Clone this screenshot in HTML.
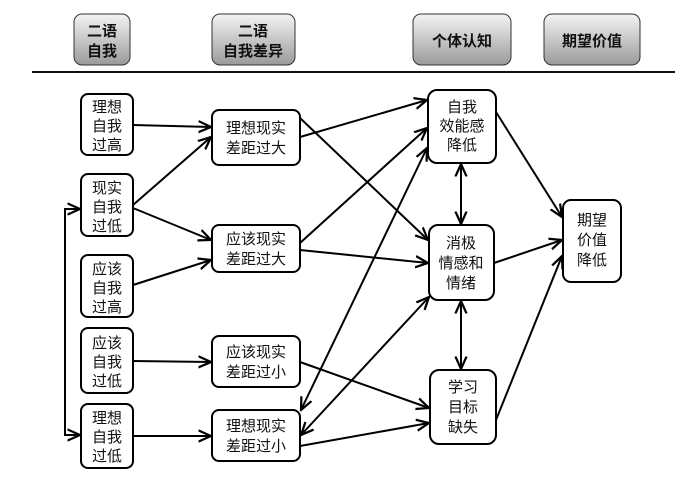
<!DOCTYPE html>
<html><head><meta charset="utf-8"><style>
body{margin:0;background:#fff;}
svg text{font-family:"Liberation Sans","Noto Sans CJK SC",sans-serif;font-size:15px;fill:#111;text-anchor:middle;}
.h{font-weight:bold;}
</style></head><body>
<svg width="700" height="481" viewBox="0 0 700 481" xmlns="http://www.w3.org/2000/svg">
<defs>
<linearGradient id="g" x1="0" y1="0" x2="0" y2="1"><stop offset="0" stop-color="#f4f4f4"/><stop offset="1" stop-color="#9a9a9a"/></linearGradient>
<marker id="a" viewBox="0 0 10 10" refX="9" refY="5" markerWidth="7" markerHeight="7" orient="auto-start-reverse"><path d="M0,1 L9,5 L0,9" fill="none" stroke="#000" stroke-width="1.6"/></marker>
</defs>
<g stroke="#333" stroke-width="1" fill="url(#g)">
<rect x="74" y="14" width="56" height="51" rx="8"/>
<rect x="212" y="14" width="83" height="51" rx="8"/>
<rect x="413" y="14" width="98" height="51" rx="8"/>
<rect x="544" y="14" width="96" height="51" rx="8"/>
</g>
<text class="h" x="102" y="36">二语</text><text class="h" x="102" y="56">自我</text>
<text class="h" x="253" y="36">二语</text><text class="h" x="253" y="56">自我差异</text>
<text class="h" x="462" y="46">个体认知</text>
<text class="h" x="592" y="46">期望价值</text>
<line x1="32" y1="72" x2="675" y2="72" stroke="#111" stroke-width="2"/>
<g stroke="#000" stroke-width="2" fill="#fff">
<rect x="81" y="94" width="52" height="61" rx="7"/>
<rect x="81" y="174" width="52" height="62" rx="7"/>
<rect x="81" y="255" width="52" height="62" rx="7"/>
<rect x="81" y="328" width="52" height="65" rx="7"/>
<rect x="81" y="404" width="52" height="64" rx="7"/>
<rect x="212" y="110" width="88" height="55" rx="7"/>
<rect x="212" y="225" width="88" height="47" rx="7"/>
<rect x="212" y="336" width="88" height="51" rx="7"/>
<rect x="212" y="410" width="88" height="51" rx="7"/>
<rect x="428" y="90" width="68" height="73" rx="9"/>
<rect x="429" y="225" width="65" height="75" rx="9"/>
<rect x="430" y="370" width="66" height="74" rx="9"/>
<rect x="563" y="200" width="58" height="82" rx="8"/>
</g>
<text x="107" y="112">理想</text><text x="107" y="131">自我</text><text x="107" y="150">过高</text>
<text x="107" y="193">现实</text><text x="107" y="212">自我</text><text x="107" y="231">过低</text>
<text x="107" y="274">应该</text><text x="107" y="293">自我</text><text x="107" y="312">过高</text>
<text x="107" y="348">应该</text><text x="107" y="367">自我</text><text x="107" y="386">过低</text>
<text x="107" y="423">理想</text><text x="107" y="442">自我</text><text x="107" y="461">过低</text>
<text x="256" y="133">理想现实</text><text x="256" y="153">差距过大</text>
<text x="256" y="244">应该现实</text><text x="256" y="264">差距过大</text>
<text x="256" y="357">应该现实</text><text x="256" y="377">差距过小</text>
<text x="256" y="431">理想现实</text><text x="256" y="451">差距过小</text>
<text x="462" y="112">自我</text><text x="462" y="131">效能感</text><text x="462" y="150">降低</text>
<text x="461" y="248">消极</text><text x="461" y="268">情感和</text><text x="461" y="288">情绪</text>
<text x="463" y="392">学习</text><text x="463" y="412">目标</text><text x="463" y="432">缺失</text>
<text x="592" y="225">期望</text><text x="592" y="245">价值</text><text x="592" y="265">降低</text>
<g stroke="#000" stroke-width="2" fill="none" marker-end="url(#a)">
<path d="M81,209 H65 V435 H80" marker-end="url(#a)"/>
<line x1="66" y1="209" x2="80" y2="209"/>
<line x1="133" y1="125" x2="211" y2="127"/>
<line x1="133" y1="205" x2="211" y2="137"/>
<line x1="133" y1="208" x2="211" y2="240"/>
<line x1="133" y1="285" x2="211" y2="260"/>
<line x1="133" y1="361" x2="211" y2="362"/>
<line x1="133" y1="436" x2="211" y2="436"/>
<line x1="300" y1="137" x2="427" y2="100"/>
<line x1="300" y1="118" x2="428" y2="240"/>
<line x1="300" y1="243" x2="427" y2="128"/>
<line x1="300" y1="250" x2="428" y2="263"/>
<line x1="300" y1="362" x2="429" y2="408"/>
<line x1="300" y1="446" x2="429" y2="423"/>
<line x1="496" y1="112" x2="562" y2="217"/>
<line x1="494" y1="263" x2="562" y2="240"/>
<line x1="496" y1="420" x2="562" y2="256"/>
<line x1="427" y1="148" x2="301" y2="410" marker-start="url(#a)"/>
<line x1="429" y1="297" x2="301" y2="435" marker-start="url(#a)"/>
<line x1="461" y1="164" x2="461" y2="224" marker-start="url(#a)"/>
<line x1="461" y1="301" x2="461" y2="369" marker-start="url(#a)"/>
</g>
</svg>
</body></html>
